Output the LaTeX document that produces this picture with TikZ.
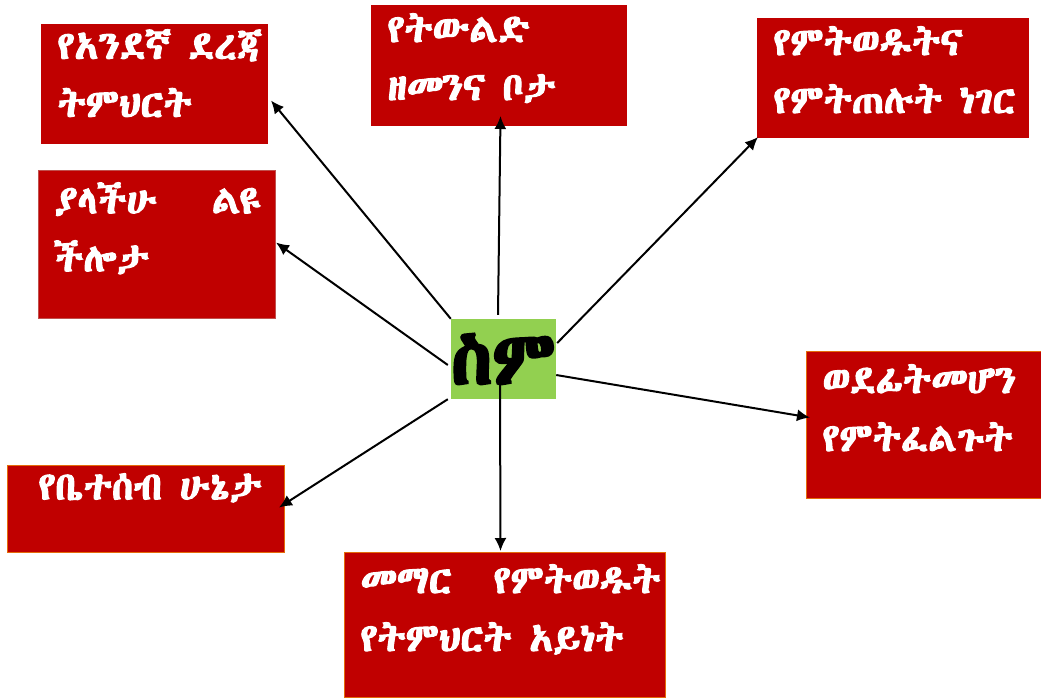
\documentclass[tikz,border=0pt]{standalone}
\usepackage{fontspec}
\usetikzlibrary{arrows.meta,calc}

% Ethiopic face, bold is made heavier by hand
\IfFontExistsTF{Abyssinica SIL}{%
  \newfontfamily\ethfont[BoldFont={Abyssinica SIL}, BoldFeatures={FakeBold=3}]{Abyssinica SIL}}{%
  \newfontfamily\ethfont{DejaVu Sans}}
\IfFontExistsTF{Abyssinica SIL}{%
  \newfontfamily\ethheavy[FakeBold=4]{Abyssinica SIL}}{%
  \newfontfamily\ethheavy{DejaVu Sans}}

\definecolor{boxred}{HTML}{C00000}
\definecolor{namegreen}{HTML}{92D050}
\definecolor{edgeorange}{HTML}{E46C0A}
\definecolor{edgered}{HTML}{C0504D}

% text set at the top left of a box: width, height, top gap, text
\newcommand{\boxtext}[4]{\parbox[c][#2][t]{#1}{\vspace*{#3}\raggedright\leftskip=16pt #4}}

\begin{document}
\begin{tikzpicture}[
    x=1pt, y=-1pt,
    box/.style = {
        rectangle,
        fill=boxred,
        draw=boxred,
        line width=1pt,
        anchor=north west,
        inner sep=0pt,
        text=white,
        font=\ethfont\bfseries\fontsize{39}{58}\selectfont
    },
    namebox/.style = {
        rectangle,
        fill=namegreen,
        minimum width=105pt,
        minimum height=80pt,
        inner sep=0pt,
        font=\ethheavy\fontsize{74}{74}\selectfont
    },
    arrow/.style = {
        -{Latex[length=13pt,width=12pt]},
        line width=2pt
    }
]
\useasboundingbox (0,0) rectangle (1041,697);

\node[box] (school) at (41,24) {\boxtext{226pt}{119pt}{5pt}{የአንደኛ ደረጃ\\ትምህርት}};
\node[box] (birth) at (371,5) {\boxtext{255pt}{120pt}{8pt}{የትውልድ\\ዘመንና ቦታ}};
\node[box] (likes) at (757,18) {\boxtext{271pt}{119pt}{8pt}{የምትወዱትና\\የምትጠሉት ነገር}};
\node[box, draw=edgered] (talent) at (38,170) {\boxtext{237pt}{148pt}{12pt}{ያላችሁ\hspace{55pt}ልዩ\\ችሎታ}};
\node[box, draw=edgeorange] (future) at (806,351) {\boxtext{235pt}{147pt}{13pt}{ወደፊትመሆን\\የምትፈልጉት}};
\node[box, draw=edgeorange] (family) at (7,465) {\boxtext{277pt}{87pt}{8pt}{\hspace*{15pt}የቤተሰብ ሁኔታ}};
\node[box, draw=edgeorange] (subject) at (344,552) {\boxtext{321pt}{145pt}{12pt}{መማር\hspace{42pt}የምትወዱት\\የትምህርት አይነት}};

\node[namebox] (ism) at (503.5,359) {ስም};

\draw[arrow] (ism.north west) -- ($(school.east)+(3,16.5)$);
\draw[arrow] ($(ism.north)+(-5.5,-4)$) -- ($(birth.south)+(1.5,-10)$);
\draw[arrow] ($(ism.east)+(1,-16)$) -- ($(likes.south west)+(1,-1)$);
\draw[arrow] ($(ism.west)+(-3,6)$) -- ($(talent.east)+(0,-2)$);
\draw[arrow] ($(ism.east)+(0,16)$) -- ($(future.west)+(4,-7.5)$);
\draw[arrow] ($(ism.south west)+(-3,0)$) -- ($(family.east)+(-6,-1.5)$);
\draw[arrow] ($(ism.south)+(-3.5,-15)$) -- ($(subject.north)+(-4.5,-1)$);

\end{tikzpicture}
\end{document}
